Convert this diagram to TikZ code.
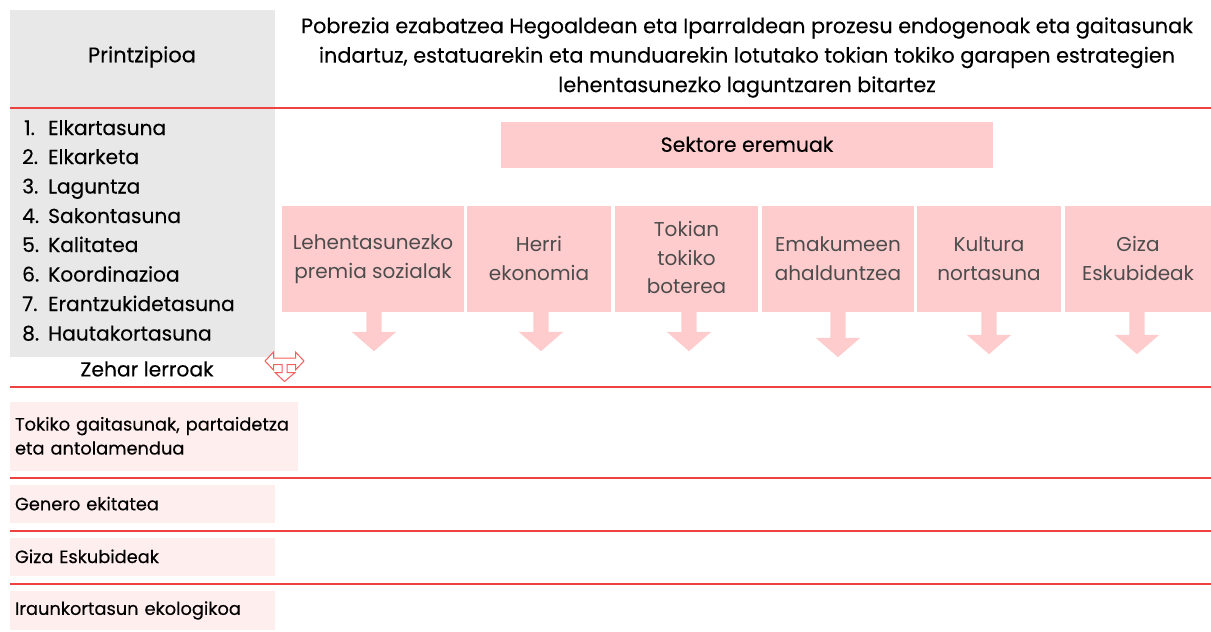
\documentclass[tikz,border=0pt]{standalone}
\usepackage{fontspec}
\setmainfont{Poppins}[FakeBold=0.25]
\newfontfamily\sectorfont{Poppins}
\usetikzlibrary{shapes.arrows}
\definecolor{linered}{RGB}{240,65,65}
\definecolor{arrowred}{RGB}{245,95,95}
\definecolor{boxpink}{RGB}{255,204,206}
\definecolor{lightpink}{RGB}{255,238,238}
\definecolor{boxgray}{RGB}{232,232,232}
\tikzset{
    sector/.style={fill=boxpink, inner sep=0pt, align=center, font=\sectorfont\fontsize{20}{28.5}\selectfont\color{black!70}},
    crossbox/.style={fill=lightpink, inner sep=0pt, text width=#1, align=left, font=\fontsize{17.8}{24}\selectfont},
    listitem/.style={anchor=base west, inner sep=0pt, font=\fontsize{20.2}{24}\selectfont},
    downarrow/.style={fill=boxpink, shape=single arrow, rotate=-90, inner xsep=0pt, inner ysep=7.5pt, minimum height=#1, single arrow head extend=14.5pt, single arrow tip angle=98, anchor=west},
    sepline/.style={color=linered, line width=1.3pt}
}
\begin{document}
\begin{tikzpicture}[x=1pt, y=-1pt]
    \useasboundingbox (0,0) rectangle (1211,632);

    \fill[boxgray] (10,10) rectangle (275,357);

    \node[font=\fontsize{21}{24}\selectfont] (principle) at (142,57) {Printzipioa};
    \node[align=center, font=\fontsize{20.8}{29.5}\selectfont] (title) at (747,57.5) {Pobrezia ezabatzea Hegoaldean eta Iparraldean prozesu endogenoak eta gaitasunak\\indartuz, estatuarekin eta munduarekin lotutako tokian tokiko garapen estrategien\\lehentasunezko laguntzaren bitartez};

    \draw[sepline] (10,108) -- (1211,108);
    \draw[sepline] (10,387) -- (1211,387);
    \draw[sepline] (10,478) -- (1211,478);
    \draw[sepline] (10,531) -- (1211,531);
    \draw[sepline] (10,584) -- (1211,584);

    \node[listitem] (n1) at (24,135) {1.};
    \node[listitem] (n2) at (22,164) {2.};
    \node[listitem] (n3) at (22,193.5) {3.};
    \node[listitem] (n4) at (22,223) {4.};
    \node[listitem] (n5) at (22,252) {5.};
    \node[listitem] (n6) at (22,281.5) {6.};
    \node[listitem] (n7) at (22,311) {7.};
    \node[listitem] (n8) at (22,340.5) {8.};
    \node[listitem] (p1) at (48,135) {Elkartasuna};
    \node[listitem] (p2) at (48,164) {Elkarketa};
    \node[listitem] (p3) at (48,193.5) {Laguntza};
    \node[listitem] (p4) at (48,223) {Sakontasuna};
    \node[listitem] (p5) at (48,252) {Kalitatea};
    \node[listitem] (p6) at (48,281.5) {Koordinazioa};
    \node[listitem] (p7) at (48,311) {Erantzukidetasuna};
    \node[listitem] (p8) at (48,340.5) {Hautakortasuna};
    \node[font=\fontsize{20.3}{24}\selectfont] (cross) at (147,369) {Zehar lerroak};

    \node[sector, minimum width=492pt, minimum height=46pt, font=\fontsize{20.4}{24}\selectfont\color{black}] (sectors) at (747,145) {\raisebox{1.5pt}{Sektore eremuak}};

    \node[sector, minimum width=182pt, minimum height=106pt] (s1) at (373,259) {\raisebox{1.5pt}{Lehentasunezko}\\\raisebox{1pt}{premia sozialak}};
    \node[sector, minimum width=144pt, minimum height=106pt] (s2) at (539,259) {\raisebox{1.5pt}{Herri}\\\raisebox{1pt}{ekonomia}};
    \node[sector, minimum width=143pt, minimum height=106pt] (s3) at (686.5,259) {\raisebox{3pt}{Tokian}\\\raisebox{3pt}{tokiko}\\\raisebox{3pt}{boterea}};
    \node[sector, minimum width=152pt, minimum height=106pt] (s4) at (838,259) {\raisebox{1.5pt}{Emakumeen}\\\raisebox{1pt}{ahalduntzea}};
    \node[sector, minimum width=144pt, minimum height=106pt] (s5) at (989,259) {\raisebox{1.5pt}{Kultura}\\\raisebox{1pt}{nortasuna}};
    \node[sector, minimum width=146pt, minimum height=106pt] (s6) at (1138,259) {\raisebox{1.5pt}{Giza}\\\raisebox{1pt}{Eskubideak}};

    \node[downarrow=39pt] (a1) at (374,312) {};
    \node[downarrow=39pt] (a2) at (541,312) {};
    \node[downarrow=39pt] (a3) at (689,312) {};
    \node[downarrow=45pt] (a4) at (838,312) {};
    \node[downarrow=42pt] (a5) at (989,312) {};
    \node[downarrow=42pt] (a6) at (1137,312) {};

    % double arrow next to the cross lines label
    \draw[color=arrowred, fill=white, line width=1pt, line join=miter]
        (265,361) -- (273.5,352) -- (273.5,358) -- (295.5,358) -- (295.5,352) -- (304,361)
        -- (295.5,370) -- (295.5,364.5) -- (287,364.5) -- (287,372.5) -- (295,372.5)
        -- (284.5,381.5) -- (275,372.5) -- (282,372.5) -- (282,364.5) -- (273.5,364.5)
        -- (273.5,370) -- cycle;

    \node[crossbox=288pt, minimum height=69pt] (c1) at (154,436.5) {\hspace*{5pt}\raisebox{1.5pt}{Tokiko gaitasunak, partaidetza}\\\hspace*{5pt}\raisebox{1.5pt}{eta antolamendua}};
    \node[crossbox=265pt, minimum height=38pt] (c2) at (142.5,504) {\hspace*{5pt}\raisebox{1pt}{Genero ekitatea}};
    \node[crossbox=265pt, minimum height=38pt] (c3) at (142.5,557) {\hspace*{5pt}\raisebox{1.5pt}{Giza Eskubideak}};
    \node[crossbox=265pt, minimum height=39pt] (c4) at (142.5,610.5) {\hspace*{5pt}\raisebox{-1.5pt}{Iraunkortasun ekologikoa}};
\end{tikzpicture}
\end{document}
